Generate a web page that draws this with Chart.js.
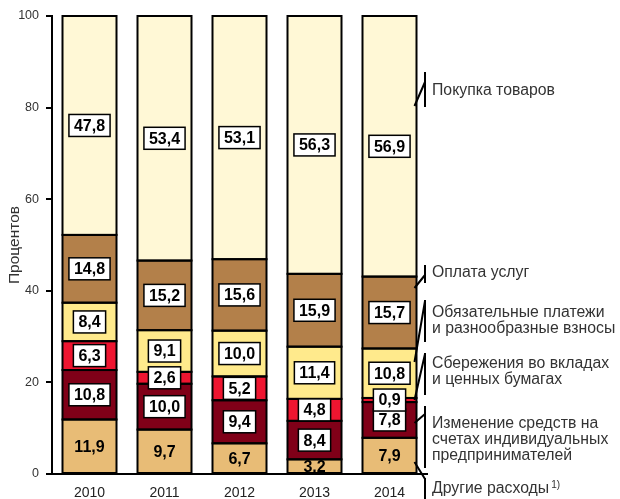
<!DOCTYPE html>
<html>
<head>
<meta charset="utf-8">
<script src="https://cdn.jsdelivr.net/npm/chart.js@4/dist/chart.umd.min.js"></script>
<style>
  html, body { margin: 0; padding: 0; background: #fff; }
  #wrap { width: 620px; height: 499px; position: relative; }
</style>
</head>
<body>
<div id="wrap"><canvas id="chart"></canvas></div>
<script>
// years on the x axis
var years = ['2010', '2011', '2012', '2013', '2014'];

// series, bottom to top of each stack (percent)
var otherSpend   = [11.9, 9.7, 6.7, 3.2, 7.9];
var entrepreneur = [10.8, 10.0, 9.4, 8.4, 7.8];
var savings      = [6.3, 2.6, 5.2, 4.8, 0.9];
var mandatory    = [8.4, 9.1, 10.0, 11.4, 10.8];
var services     = [14.8, 15.2, 15.6, 15.9, 15.7];
var goods        = [47.8, 53.4, 53.1, 56.3, 56.9];

var yTicks = [0, 20, 40, 60, 80, 100];

var seriesNames = ['Другие расходы', 'Изменение средств на счетах индивидуальных предпринимателей',
    'Сбережения во вкладах и ценных бумагах', 'Обязательные платежи и разнообразные взносы',
    'Оплата услуг', 'Покупка товаров'];
var seriesColors = ['#E8BC76', '#800018', '#EE1530', '#FFEA8C', '#B3804A', '#FFF8D6'];

// callout labels on the right (index = dataset index), layout only
var callouts = [
    { lines: ['Другие расходы'], textY: 489, vTop: 478, vBot: 499, hint: 462, endY: 479, sup: '1)' },
    { lines: ['Изменение средств на', 'счетах индивидуальных', 'предпринимателей'], textY: 424, vTop: 406, vBot: 468, hint: 423, endY: 414 },
    { lines: ['Сбережения во вкладах', 'и ценных бумагах'], textY: 364, vTop: 353, vBot: 395, hint: 403, endY: 354 },
    { lines: ['Обязательные платежи', 'и разнообразные взносы'], textY: 313, vTop: 300, vBot: 342, hint: 362, endY: 301 },
    { lines: ['Оплата услуг'], textY: 273, vTop: 265, vBot: 283, hint: 288, endY: 275 },
    { lines: ['Покупка товаров'], textY: 91, vTop: 72, vBot: 107, hint: 106, endY: 82 }
];

var FONT = '"Liberation Sans", Arial, sans-serif';

function fmt(v) {
    return v.toFixed(1).replace('.', ',');
}

// outlines, value boxes and callouts
var decor = {
    id: 'decor',
    afterDatasetsDraw: function(chart) {
        var ctx = chart.ctx;
        ctx.save();
        // segment outlines (stroke centred on edges so joints stay thin)
        chart.data.datasets.forEach(function(ds, di) {
            chart.getDatasetMeta(di).data.forEach(function(el) {
                var top = Math.min(el.y, el.base), bot = Math.max(el.y, el.base);
                ctx.strokeStyle = '#000';
                ctx.lineWidth = 2;
                ctx.strokeRect(el.x - el.width / 2, top, el.width, bot - top);
            });
        });
        // value labels
        ctx.font = 'bold 16px ' + FONT;
        ctx.textAlign = 'center';
        ctx.textBaseline = 'middle';
        chart.data.datasets.forEach(function(ds, di) {
            chart.getDatasetMeta(di).data.forEach(function(el, i) {
                var txt = fmt(ds.data[i]);
                var cy = (el.y + el.base) / 2;
                if (di > 0) {
                    var w = ctx.measureText(txt).width + 10;
                    var h = 22;
                    ctx.fillStyle = '#fff';
                    ctx.fillRect(el.x - w / 2, cy - h / 2, w, h);
                    ctx.strokeStyle = '#000';
                    ctx.lineWidth = 1.5;
                    ctx.strokeRect(el.x - w / 2, cy - h / 2, w, h);
                }
                ctx.fillStyle = '#000';
                ctx.fillText(txt, el.x, cy + 1);
            });
        });
        // callouts next to the last bar
        var lastIdx = years.length - 1;
        var vx = 425;
        callouts.forEach(function(c, di) {
            var el = chart.getDatasetMeta(di).data[lastIdx];
            var top = Math.min(el.y, el.base), bot = Math.max(el.y, el.base);
            var sy = Math.max(top + 2, Math.min(bot - 2, c.hint));
            var sx = el.x + el.width / 2 - 2;
            ctx.strokeStyle = '#000';
            ctx.lineWidth = 2;
            ctx.beginPath();
            ctx.moveTo(vx, c.vTop);
            ctx.lineTo(vx, c.vBot);
            ctx.moveTo(sx, sy);
            ctx.lineTo(vx, c.endY);
            ctx.stroke();
            ctx.textAlign = 'left';
            ctx.textBaseline = 'middle';
            ctx.fillStyle = '#333';
            c.lines.forEach(function(line, k) {
                var y = c.textY + k * 16;
                ctx.font = '15.8px ' + FONT;
                ctx.fillText(line, 432, y);
                if (c.sup && k === c.lines.length - 1) {
                    var w = ctx.measureText(line).width;
                    ctx.font = '10px ' + FONT;
                    ctx.fillText(c.sup, 432 + w + 2, y - 4);
                }
            });
        });
        ctx.restore();
    }
};

var seriesData = [otherSpend, entrepreneur, savings, mandatory, services, goods];

new Chart(document.getElementById('chart').getContext('2d'), {
    type: 'bar',
    data: {
        labels: years,
        datasets: seriesData.map(function(d, i) {
            return {
                label: seriesNames[i],
                data: d,
                backgroundColor: seriesColors[i],
                borderWidth: 0
            };
        })
    },
    options: {
        responsive: true,
        maintainAspectRatio: false,
        animation: false,
        events: [],
        datasets: {
            bar: { categoryPercentage: 1, barPercentage: 0.72 }
        },
        layout: { padding: { top: 16, right: 193, left: 0, bottom: 0 } },
        plugins: {
            legend: { display: false },
            tooltip: { enabled: false }
        },
        scales: {
            x: {
                stacked: true,
                grid: { display: false },
                border: { display: true, color: '#000', width: 2 },
                ticks: { color: '#222', font: { family: FONT, size: 14 }, padding: 3 },
                afterFit: function(s) { s.height = 25; }
            },
            y: {
                stacked: true,
                min: 0,
                max: 100,
                afterBuildTicks: function(s) {
                    s.ticks = yTicks.map(function(v) { return { value: v }; });
                },
                grid: { drawOnChartArea: false, tickLength: 6, color: '#000', lineWidth: 2 },
                border: { display: true, color: '#000', width: 2 },
                ticks: { color: '#333', font: { family: FONT, size: 12.5 }, padding: 7 },
                title: {
                    display: true,
                    text: 'Процентов',
                    color: '#333',
                    font: { family: FONT, size: 15.5 },
                    padding: { top: 5, bottom: 0 }
                },
                afterFit: function(s) { s.width = 52; }
            }
        }
    },
    plugins: [decor]
});
</script>
</body>
</html>
